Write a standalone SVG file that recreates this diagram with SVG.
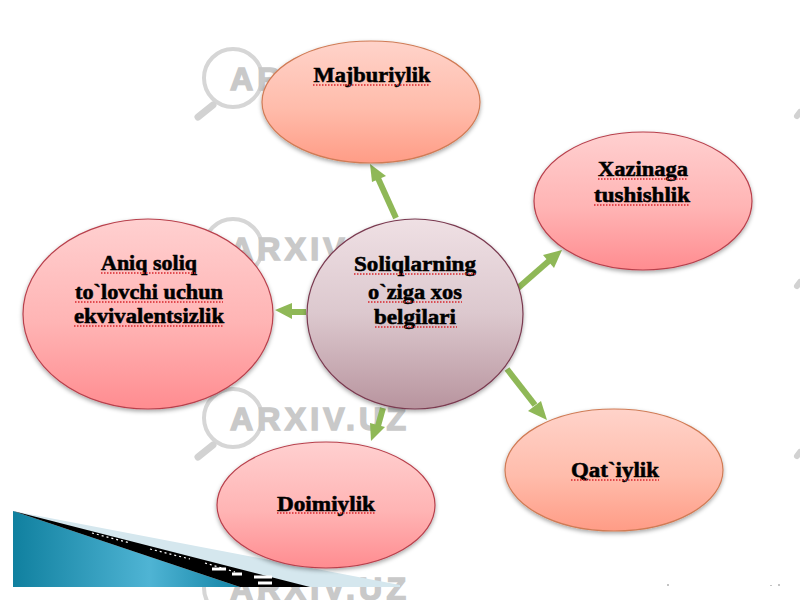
<svg xmlns="http://www.w3.org/2000/svg" xmlns:xlink="http://www.w3.org/1999/xlink" width="800" height="600" viewBox="0 0 800 600">
<style>
.t{font-family:"Liberation Serif","Times New Roman",serif;font-weight:700;font-size:22px;fill:#000;text-anchor:middle;stroke:#000;stroke-width:.55px}
.u{fill:none;stroke:#d8262c;stroke-width:1.3;stroke-dasharray:1.5 1.5}
.a{fill:none;stroke:#8fb857;stroke-width:6}
.h{fill:#8fb857}
.wm{font-family:"Liberation Sans",Arial,sans-serif;font-weight:700;font-size:32px;fill:#c9c9c9;stroke:#c9c9c9;stroke-width:1.5px}
.e{stroke-width:1.2}
</style>
<defs>
<linearGradient id="pk" x1="0" y1="0" x2="0" y2="1"><stop offset="0" stop-color="#ffd0d0"/><stop offset=".55" stop-color="#ffb4b4"/><stop offset="1" stop-color="#ff8c90"/></linearGradient>
<linearGradient id="or" x1="0" y1="0" x2="0" y2="1"><stop offset="0" stop-color="#ffd3ca"/><stop offset=".55" stop-color="#ffbcab"/><stop offset="1" stop-color="#ff9c86"/></linearGradient>
<linearGradient id="ce" x1="0" y1="0" x2="0" y2="1"><stop offset="0" stop-color="#efe0e4"/><stop offset=".5" stop-color="#dcc8ce"/><stop offset="1" stop-color="#b8949e"/></linearGradient>
<linearGradient id="tl" x1="0" y1="0" x2="1" y2="0"><stop offset="0" stop-color="#10809f"/><stop offset=".6" stop-color="#4fb4d4"/><stop offset="1" stop-color="#1283a5"/></linearGradient>
<filter id="sh" x="-10%" y="-10%" width="120%" height="125%"><feDropShadow dx="0" dy="2" stdDeviation="2" flood-color="#000" flood-opacity=".35"/></filter>
<g id="w">
<circle cx="233" cy="78" r="29" fill="none" stroke="#d6d6d6" stroke-width="4"/>
<path d="M213 105L198 117" fill="none" stroke="#d2d2d2" stroke-width="7" stroke-linecap="round"/>
<text class="wm" x="230" y="90" textLength="176" lengthAdjust="spacing">ARXIV.UZ</text>
</g>
</defs>
<rect width="800" height="600" fill="#fff"/>
<g id="watermarks">
<use xlink:href="#w"/>
<use xlink:href="#w" y="170"/>
<use xlink:href="#w" y="340"/>
<use xlink:href="#w" y="510"/>
<path d="M800 112L797 116" stroke="#d2d2d2" stroke-width="6" stroke-linecap="round" fill="none"/>
<path d="M800 282L797 286" stroke="#d2d2d2" stroke-width="6" stroke-linecap="round" fill="none"/>
<path d="M800 452L797 456" stroke="#d2d2d2" stroke-width="6" stroke-linecap="round" fill="none"/>
<path d="M668 584v2M771 585v1M779 584v2" stroke="#c4c4c4" stroke-width="2" fill="none"/>
</g>
<g id="corner">
<path d="M13 511L400 585V587H13Z" fill="#d5e7ee"/>
<path d="M13 511L240 587H13Z" fill="url(#tl)"/>
<path d="M13 511L310 587H240Z" fill="#000"/>
<path d="M92 533L130 543M150 549L190 559M205 563L235 572" stroke="#fff" stroke-width="1.2" stroke-dasharray="2 3" fill="none"/>
<path d="M212 569h14M232 574h10M254 577h18M258 583h14" stroke="#fff" stroke-width="3" fill="none"/>
</g>
<g id="connectors">
<path class="a" d="M396 218L377 176"/><path class="h" d="M370 164L386 176L372 182Z"/>
<path class="a" d="M518 288L550 260"/><path class="h" d="M562 250L554 268L543 255Z"/>
<path class="a" d="M507 369L535 405"/><path class="h" d="M547 420L528 411L541 401Z"/>
<path class="a" d="M383 408L378 426"/><path class="h" d="M371 441L370 423L385 427Z"/>
<path class="a" d="M306 312L288 312"/><path class="h" d="M275 310L292 303V319Z"/>
</g>
<g id="n-maj"><ellipse class="e" cx="371" cy="102" rx="109" ry="61" fill="url(#or)" stroke="#d07b55" filter="url(#sh)"/><text class="t" x="372" y="82" textLength="117" lengthAdjust="spacingAndGlyphs">Majburiylik</text><path class="u" d="M313 85H430"/></g>
<g id="n-xaz"><ellipse class="e" cx="643" cy="201" rx="109" ry="69" fill="url(#pk)" stroke="#b8404c" filter="url(#sh)"/><text class="t" x="643" y="176" textLength="90" lengthAdjust="spacingAndGlyphs">Xazinaga</text><path class="u" d="M598 179H688"/><text class="t" x="642" y="202" textLength="96" lengthAdjust="spacingAndGlyphs">tushishlik</text><path class="u" d="M594 205H690"/></g>
<g id="n-qat"><ellipse class="e" cx="614" cy="470" rx="109" ry="61" fill="url(#or)" stroke="#d07b55" filter="url(#sh)"/><text class="t" x="615" y="477" textLength="88" lengthAdjust="spacingAndGlyphs">Qat`iylik</text><path class="u" d="M571 480H659"/></g>
<g id="n-doi"><ellipse class="e" cx="326" cy="505" rx="109" ry="63" fill="url(#pk)" stroke="#b8404c" filter="url(#sh)"/><text class="t" x="326" y="511" textLength="98" lengthAdjust="spacingAndGlyphs">Doimiylik</text><path class="u" d="M277 513H375"/></g>
<g id="n-ani"><ellipse class="e" cx="148" cy="314" rx="125" ry="95" fill="url(#pk)" stroke="#b8404c" filter="url(#sh)"/><text class="t" x="149" y="270" textLength="96" lengthAdjust="spacingAndGlyphs">Aniq soliq</text><path class="u" d="M101 273H197"/><text class="t" x="149" y="299" textLength="148" lengthAdjust="spacingAndGlyphs">to`lovchi uchun</text><path class="u" d="M75 302H223"/><text class="t" x="149" y="323" textLength="150" lengthAdjust="spacingAndGlyphs">ekvivalentsizlik</text><path class="u" d="M74 326H224"/></g>
<g id="n-sol"><ellipse class="e" cx="415" cy="314" rx="108" ry="95" fill="url(#ce)" stroke="#7a3a50" filter="url(#sh)"/><text class="t" x="415" y="271" textLength="122" lengthAdjust="spacingAndGlyphs">Soliqlarning</text><path class="u" d="M354 274H476"/><text class="t" x="415" y="299" textLength="94" lengthAdjust="spacingAndGlyphs">o`ziga xos</text><path class="u" d="M368 302H462"/><text class="t" x="415" y="324" textLength="82" lengthAdjust="spacingAndGlyphs">belgilari</text><path class="u" d="M375 327H457"/></g>
</svg>
